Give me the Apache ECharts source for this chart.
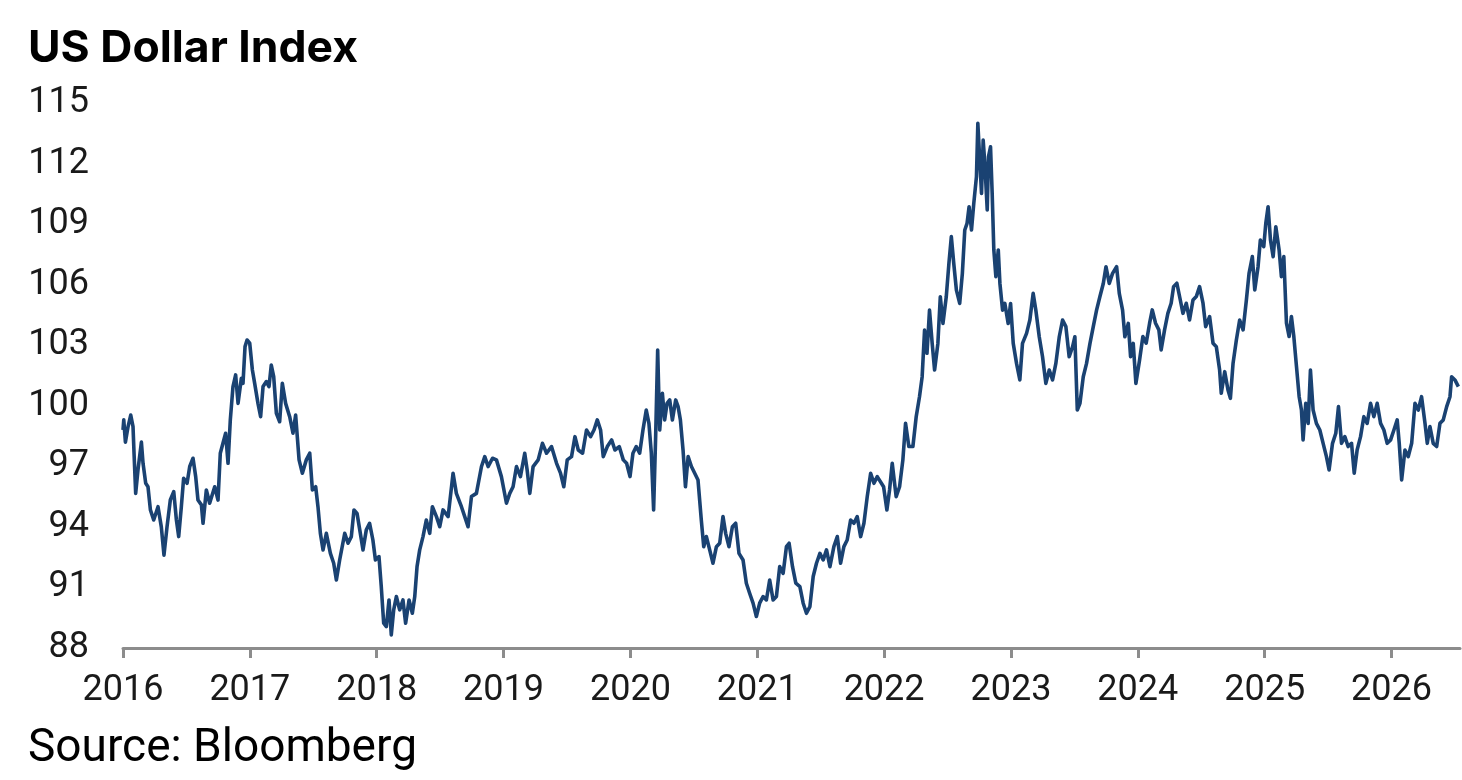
<!DOCTYPE html>
<html>
<head>
<meta charset="utf-8">
<script src="https://cdn.jsdelivr.net/npm/echarts@6/dist/echarts.min.js"></script>
<style>
html,body{margin:0;padding:0;background:#fff;}
#chart{width:1462px;height:780px;}
</style>
</head>
<body>
<div id="chart"></div>
<script>
const chartTitle = "US Dollar Index";
const sourceNote = "Source: Bloomberg";
const yearTicks = [2016, 2017, 2018, 2019, 2020, 2021, 2022, 2023, 2024, 2025, 2026];
const yTicks = [88, 91, 94, 97, 100, 103, 106, 109, 112, 115];

const dates = [
2016.000,2016.006,2016.019,2016.040,2016.061,2016.079,2016.087,2016.100,2016.118,2016.145,
2016.158,2016.179,2016.197,2016.216,2016.242,2016.276,2016.302,2016.323,2016.347,2016.373,
2016.400,2016.421,2016.439,2016.460,2016.478,2016.505,2016.526,2016.552,2016.573,2016.591,
2016.618,2016.631,2016.657,2016.683,2016.723,2016.749,2016.767,2016.788,2016.809,2016.828,
2016.846,2016.867,2016.888,2016.907,2016.933,2016.946,2016.962,2016.978,2016.999,2017.020,
2017.038,2017.064,2017.085,2017.104,2017.130,2017.151,2017.169,2017.188,2017.209,2017.235,
2017.256,2017.282,2017.314,2017.340,2017.361,2017.388,2017.414,2017.445,2017.472,2017.493,
2017.519,2017.537,2017.556,2017.577,2017.603,2017.635,2017.661,2017.682,2017.708,2017.748,
2017.774,2017.800,2017.821,2017.845,2017.871,2017.892,2017.918,2017.944,2017.970,2017.990,
2018.018,2018.036,2018.055,2018.076,2018.097,2018.115,2018.134,2018.155,2018.181,2018.207,
2018.228,2018.255,2018.281,2018.300,2018.318,2018.339,2018.365,2018.391,2018.418,2018.439,
2018.471,2018.497,2018.523,2018.563,2018.602,2018.628,2018.668,2018.694,2018.720,2018.747,
2018.786,2018.826,2018.852,2018.878,2018.913,2018.944,2018.983,2019.023,2019.049,2019.075,
2019.102,2019.133,2019.167,2019.186,2019.207,2019.233,2019.273,2019.307,2019.339,2019.378,
2019.418,2019.449,2019.475,2019.502,2019.536,2019.563,2019.589,2019.623,2019.654,2019.686,
2019.713,2019.739,2019.765,2019.786,2019.818,2019.852,2019.878,2019.912,2019.944,2019.970,
2019.997,2020.020,2020.046,2020.073,2020.099,2020.125,2020.146,2020.165,2020.183,2020.199,
2020.215,2020.231,2020.252,2020.270,2020.289,2020.310,2020.331,2020.357,2020.376,2020.394,
2020.415,2020.434,2020.455,2020.481,2020.507,2020.533,2020.559,2020.578,2020.599,2020.625,
2020.651,2020.678,2020.704,2020.730,2020.751,2020.777,2020.804,2020.830,2020.856,2020.888,
2020.914,2020.940,2020.967,2020.993,2021.019,2021.046,2021.072,2021.098,2021.125,2021.151,
2021.177,2021.204,2021.230,2021.251,2021.278,2021.304,2021.336,2021.362,2021.388,2021.415,
2021.441,2021.467,2021.494,2021.520,2021.546,2021.573,2021.604,2021.631,2021.657,2021.683,
2021.709,2021.736,2021.762,2021.788,2021.815,2021.841,2021.867,2021.894,2021.920,2021.946,
2021.996,2022.022,2022.043,2022.064,2022.095,2022.122,2022.148,2022.169,2022.195,2022.227,
2022.253,2022.279,2022.300,2022.319,2022.338,2022.358,2022.379,2022.398,2022.424,2022.443,
2022.464,2022.490,2022.511,2022.530,2022.549,2022.570,2022.596,2022.617,2022.636,2022.654,
2022.670,2022.689,2022.707,2022.728,2022.739,2022.750,2022.768,2022.781,2022.794,2022.813,
2022.823,2022.839,2022.852,2022.865,2022.881,2022.900,2022.913,2022.934,2022.952,2022.978,
2022.997,2023.018,2023.044,2023.070,2023.091,2023.123,2023.149,2023.175,2023.196,2023.223,
2023.249,2023.275,2023.302,2023.328,2023.354,2023.381,2023.407,2023.433,2023.459,2023.486,
2023.504,2023.523,2023.544,2023.570,2023.596,2023.623,2023.649,2023.675,2023.701,2023.728,
2023.749,2023.775,2023.801,2023.833,2023.854,2023.880,2023.898,2023.925,2023.943,2023.964,
2023.985,2024.014,2024.040,2024.066,2024.093,2024.114,2024.140,2024.166,2024.184,2024.211,
2024.237,2024.263,2024.282,2024.308,2024.335,2024.356,2024.382,2024.408,2024.435,2024.461,
2024.487,2024.514,2024.535,2024.566,2024.593,2024.619,2024.645,2024.658,2024.685,2024.711,
2024.730,2024.751,2024.777,2024.803,2024.830,2024.856,2024.877,2024.903,2024.922,2024.948,
2024.966,2024.993,2025.009,2025.027,2025.046,2025.067,2025.088,2025.114,2025.132,2025.151,
2025.172,2025.193,2025.211,2025.230,2025.251,2025.272,2025.290,2025.303,2025.324,2025.343,
2025.361,2025.382,2025.408,2025.435,2025.461,2025.487,2025.508,2025.535,2025.561,2025.582,
2025.606,2025.632,2025.658,2025.685,2025.706,2025.729,2025.756,2025.782,2025.808,2025.835,
2025.861,2025.887,2025.914,2025.940,2025.966,2025.993,2026.019,2026.045,2026.061,2026.080,
2026.106,2026.132,2026.159,2026.185,2026.211,2026.237,2026.264,2026.282,2026.303,2026.329,
2026.356,2026.382,2026.408,2026.435,2026.461,2026.474,2026.500,2026.527
];

const values = [
98.8,99.3,98.2,98.97,99.54,98.97,97.65,95.66,96.82,98.2,
97.15,96.16,95.99,94.84,94.34,95.0,94.0,92.6,94.0,95.33,
95.75,94.34,93.52,95.0,96.41,96.16,96.99,97.4,96.49,95.33,
95.09,94.18,95.83,95.17,95.99,95.33,97.65,98.14,98.64,97.15,
99.3,100.95,101.53,100.12,101.36,101.11,102.93,103.26,103.1,101.77,
101.11,100.12,99.46,100.95,101.2,100.95,102.02,101.44,99.63,99.21,
101.11,100.12,99.46,98.64,99.54,97.32,96.66,97.32,97.65,95.83,
95.99,95.0,93.68,92.86,93.68,92.69,92.2,91.37,92.36,93.68,
93.19,93.52,94.84,94.67,93.68,92.86,93.85,94.18,93.35,92.36,
92.53,91.04,89.23,89.06,90.38,88.65,89.89,90.55,89.89,90.38,
89.23,90.38,89.72,90.55,92.03,92.86,93.52,94.34,93.68,95.0,
94.51,94.01,94.84,94.51,96.66,95.66,95.0,94.51,94.01,95.5,
95.66,96.99,97.48,96.99,97.4,97.32,96.49,95.17,95.66,95.99,
96.99,96.49,97.65,96.82,95.66,96.99,97.32,98.14,97.65,97.98,
97.15,96.66,95.99,97.32,97.48,98.47,97.81,97.65,98.8,98.47,
98.8,99.3,98.8,97.48,97.98,98.31,97.81,97.98,97.32,97.15,
96.49,97.65,97.98,97.65,98.8,99.79,99.13,97.65,94.84,98.47,
102.76,98.8,100.62,99.3,100.12,100.29,99.3,100.29,99.96,99.3,
97.81,95.99,97.48,96.99,96.66,96.32,94.34,93.02,93.52,92.86,
92.2,93.02,93.19,94.51,93.68,93.02,94.01,94.18,92.69,92.36,
91.21,90.71,90.22,89.56,90.22,90.55,90.38,91.37,90.38,90.55,
92.03,91.7,93.02,93.19,92.03,91.21,91.04,90.22,89.72,90.05,
91.54,92.2,92.69,92.36,92.86,92.03,93.02,93.52,92.2,93.02,
93.35,94.34,94.18,94.51,93.52,94.18,95.5,96.66,96.16,96.49,
95.99,94.84,95.83,97.15,95.5,95.99,97.32,99.13,97.98,97.98,
99.46,100.45,101.44,103.75,102.6,104.74,103.09,101.77,103.09,105.4,
104.08,105.4,107.06,108.38,107.06,105.73,105.07,106.56,108.71,109.04,
109.86,108.71,110.03,111.35,113.99,112.67,110.52,113.16,112.01,109.7,
112.34,112.83,110.52,107.72,106.4,107.72,106.06,104.74,105.07,104.08,
105.07,103.09,102.1,101.28,103.09,103.59,104.25,105.57,104.74,103.42,
102.43,101.11,101.77,101.28,102.1,103.42,104.25,103.92,102.43,102.93,
103.42,99.79,100.12,101.44,102.1,103.09,103.92,104.74,105.4,106.06,
106.89,106.06,106.56,106.89,105.57,104.74,103.42,104.08,102.43,103.09,
101.11,102.27,103.43,103.1,104.09,104.75,104.09,103.76,102.77,103.76,
104.58,105.08,105.9,106.07,105.24,104.58,105.08,104.25,105.24,105.41,
105.9,105.08,103.92,104.42,103.1,102.93,101.77,100.62,101.69,100.78,
100.37,102.11,103.26,104.25,103.76,105.24,106.56,107.39,105.74,106.89,
108.21,107.88,109.04,109.86,108.21,107.39,108.87,107.72,106.4,107.39,
104.09,103.43,104.42,103.43,101.94,100.45,99.79,98.31,100.12,99.13,
101.77,99.79,99.13,98.8,98.14,97.48,96.82,98.14,98.64,99.96,
98.14,98.47,97.98,98.14,96.66,97.81,98.47,99.46,99.13,100.12,
99.46,100.12,99.13,98.8,98.14,98.31,98.8,99.3,98.14,96.33,
97.81,97.48,98.14,100.12,99.79,100.45,99.13,98.14,98.97,98.14,
97.98,99.13,99.3,99.96,100.45,101.44,101.28,100.95
];

const seriesData = dates.map((d, i) => [d, values[i]]);

const chart = echarts.init(document.getElementById('chart'));
chart.setOption({
  backgroundColor: '#ffffff',
  animation: false,
  title: [
    { text: chartTitle, left: 23, top: 21,
      textStyle: { fontFamily: 'Inter', fontWeight: 'bold', fontSize: 44.5, color: '#000000' } },
    { text: sourceNote, left: 23, top: 721,
      textStyle: { fontFamily: 'Roboto', fontWeight: 'normal', fontSize: 46, color: '#000000' } }
  ],
  grid: { left: 123, right: 2, top: 103, bottom: 132, containLabel: false },
  xAxis: {
    type: 'value',
    min: 2016,
    max: 2026.54,
    interval: 1,
    splitLine: { show: false },
    axisLine: { show: true, lineStyle: { color: '#8c8c8c', width: 3 } },
    axisTick: { show: true, length: 10, lineStyle: { color: '#8c8c8c', width: 3 }, customValues: yearTicks },
    axisLabel: { customValues: yearTicks, formatter: v => String(Math.round(v)), margin: 25,
      fontFamily: 'Roboto', fontSize: 36, color: '#1a1a1a' }
  },
  yAxis: {
    type: 'value',
    min: 88,
    max: 115,
    interval: 3,
    splitLine: { show: false },
    axisLine: { show: false },
    axisTick: { show: false },
    axisLabel: { customValues: yTicks, margin: 34, fontFamily: 'Roboto', fontSize: 36, color: '#1a1a1a' }
  },
  series: [{
    type: 'line',
    data: seriesData,
    showSymbol: false,
    symbol: 'none',
    lineStyle: { color: '#1a4272', width: 3.6, join: 'round' },
    itemStyle: { color: '#1a4272' }
  }]
});
</script>
</body>
</html>
